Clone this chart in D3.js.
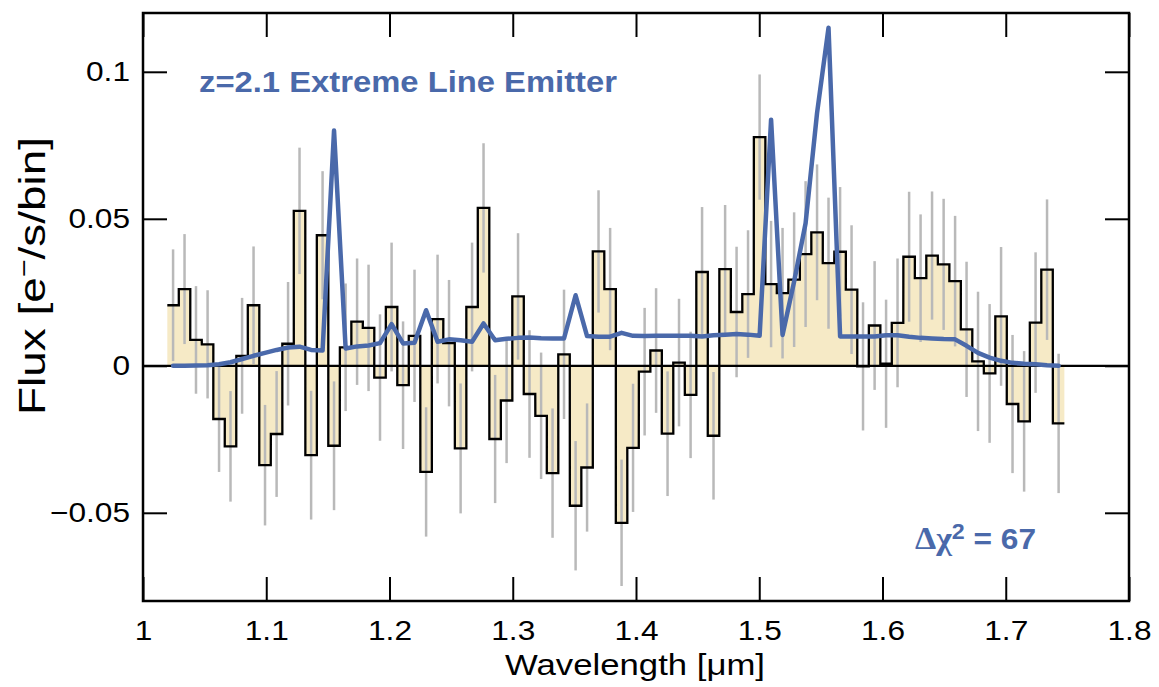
<!DOCTYPE html>
<html>
<head>
<meta charset="utf-8">
<script src="https://cdn.jsdelivr.net/npm/d3@7"></script>
<style>
  body { margin: 0; background: #fff; }
  svg { display: block; }
  text { font-family: "Liberation Sans", Arial, sans-serif; }
</style>
</head>
<body>
<div id="chart"></div>
<script>
// bin centres [um]
const wavelength = [
  1.0244, 1.0337, 1.0430, 1.0524, 1.0617, 1.0710, 1.0804, 1.0897, 1.0990, 1.1084,
  1.1177, 1.1270, 1.1364, 1.1457, 1.1550, 1.1644, 1.1737, 1.1830, 1.1923, 1.2017,
  1.2110, 1.2203, 1.2297, 1.2390, 1.2483, 1.2577, 1.2670, 1.2763, 1.2857, 1.2950,
  1.3043, 1.3136, 1.3230, 1.3323, 1.3416, 1.3510, 1.3603, 1.3696, 1.3790, 1.3883,
  1.3976, 1.4070, 1.4163, 1.4256, 1.4349, 1.4443, 1.4536, 1.4629, 1.4723, 1.4816,
  1.4909, 1.5003, 1.5096, 1.5189, 1.5283, 1.5376, 1.5469, 1.5562, 1.5656, 1.5749,
  1.5842, 1.5936, 1.6029, 1.6122, 1.6216, 1.6309, 1.6402, 1.6496, 1.6589, 1.6682,
  1.6775, 1.6869, 1.6962, 1.7055, 1.7149, 1.7242, 1.7335, 1.7429
];
const binWidth = 0.00933;

// measured flux per bin [e-/s/bin]
const flux = [
  0.0206, 0.0261, 0.0088, 0.0073, -0.0181, -0.0274, 0.0034, 0.0206, -0.0338, -0.0232,
  0.0075, 0.0527, -0.0304, 0.0444, -0.0272, 0.0063, 0.0150, 0.0129, -0.0040, 0.0200,
  -0.0066, 0.0102, -0.0361, 0.0159, 0.0077, -0.0281, 0.0200, 0.0537, -0.0249, -0.0118,
  0.0236, -0.0096, -0.0170, -0.0365, 0.0039, -0.0476, -0.0346, 0.0389, 0.0261, -0.0534,
  -0.0279, -0.0020, 0.0052, -0.0231, 0.0011, -0.0099, 0.0319, -0.0238, 0.0329, 0.0183,
  0.0244, 0.0778, 0.0278, 0.0247, 0.0293, 0.0380, 0.0454, 0.0349, 0.0388, 0.0259,
  -0.0002, 0.0137, 0.0007, 0.0146, 0.0371, 0.0298, 0.0375, 0.0345, 0.0288, 0.0124,
  0.0015, -0.0026, 0.0168, -0.0130, -0.0189, 0.0147, 0.0327, -0.0196
];

// 1-sigma errors
const fluxErr = [
  0.0190, 0.0187, 0.0183, 0.0184, 0.0180, 0.0188, 0.0197, 0.0200, 0.0205, 0.0214,
  0.0210, 0.0215, 0.0219, 0.0218, 0.0219, 0.0217, 0.0215, 0.0215, 0.0215, 0.0219,
  0.0217, 0.0225, 0.0220, 0.0219, 0.0215, 0.0221, 0.0219, 0.0220, 0.0218, 0.0213,
  0.0215, 0.0217, 0.0215, 0.0220, 0.0220, 0.0220, 0.0218, 0.0208, 0.0208, 0.0215,
  0.0218, 0.0217, 0.0212, 0.0212, 0.0217, 0.0215, 0.0221, 0.0217, 0.0218, 0.0222,
  0.0217, 0.0213, 0.0215, 0.0222, 0.0229, 0.0248, 0.0231, 0.0223, 0.0220, 0.0219,
  0.0218, 0.0219, 0.0218, 0.0219, 0.0221, 0.0217, 0.0218, 0.0223, 0.0222, 0.0230,
  0.0237, 0.0236, 0.0236, 0.0235, 0.0239, 0.0239, 0.0239, 0.0237
];

// best-fit line emitter template
const model = [
  0.0000, 0.0000, 0.0001, 0.0002, 0.0005, 0.0012, 0.0023, 0.0034, 0.0044, 0.0054,
  0.0062, 0.0065, 0.0054, 0.0052, 0.0800, 0.0059, 0.0066, 0.0069, 0.0077, 0.0142,
  0.0076, 0.0078, 0.0189, 0.0082, 0.0090, 0.0087, 0.0082, 0.0144, 0.0087, 0.0092,
  0.0095, 0.0096, 0.0094, 0.0093, 0.0093, 0.0240, 0.0101, 0.0099, 0.0099, 0.0112,
  0.0102, 0.0101, 0.0102, 0.0102, 0.0102, 0.0102, 0.0100, 0.0104, 0.0106, 0.0108,
  0.0106, 0.0102, 0.0837, 0.0105, 0.0287, 0.0485, 0.0860, 0.1150, 0.0100, 0.0100,
  0.0100, 0.0100, 0.0104, 0.0104, 0.0099, 0.0095, 0.0093, 0.0091, 0.0090, 0.0068,
  0.0044, 0.0028, 0.0017, 0.0010, 0.0007, 0.0005, 0.0002, 0.0000
];

const xTicks = [1, 1.1, 1.2, 1.3, 1.4, 1.5, 1.6, 1.7, 1.8];
const yTicks = [-0.05, 0, 0.05, 0.1];

const blue = "#4a69aa";

const margin = { top: 13, right: 30, bottom: 86, left: 143 },
    width = 1159 - margin.left - margin.right,
    height = 687 - margin.top - margin.bottom;

const svg = d3.select("#chart").append("svg")
    .attr("width", 1159)
    .attr("height", 687);

const g = svg.append("g")
    .attr("transform", `translate(${margin.left},${margin.top})`);

const x = d3.scaleLinear().domain([1, 1.8]).range([0, width]);
const y = d3.scaleLinear().domain([-0.08, 0.12]).range([height, 0]);

// widen glyphs a little, the original font runs wider than Arial
function stretch(sel, k) {
    sel.each(function () {
        const w = this.getComputedTextLength();
        d3.select(this).attr("textLength", w * k).attr("lengthAdjust", "spacingAndGlyphs");
    });
}

// step histogram points: each bin as two corners
const steps = [];
wavelength.forEach((w, i) => {
    steps.push([w - binWidth / 2, flux[i]]);
    steps.push([w + binWidth / 2, flux[i]]);
});

g.append("path")
    .datum(steps)
    .attr("fill", "#f6eac6")
    .attr("d", d3.area().x(d => x(d[0])).y0(y(0)).y1(d => y(d[1])));

// error bars
g.append("g")
    .selectAll("line")
    .data(wavelength)
    .join("line")
    .attr("x1", d => x(d))
    .attr("x2", d => x(d))
    .attr("y1", (d, i) => y(flux[i] - fluxErr[i]))
    .attr("y2", (d, i) => y(flux[i] + fluxErr[i]))
    .attr("stroke", "#b9b9b9")
    .attr("stroke-width", 2.5);

g.append("path")
    .datum(steps)
    .attr("fill", "none")
    .attr("stroke", "#000")
    .attr("stroke-width", 2.3)
    .attr("d", d3.line().x(d => x(d[0])).y(d => y(d[1])));

// zero line
g.append("line")
    .attr("x1", 0).attr("x2", width)
    .attr("y1", y(0)).attr("y2", y(0))
    .attr("stroke", "#000")
    .attr("stroke-width", 2.2);

// model
g.append("path")
    .datum(wavelength.map((w, i) => [w, model[i]]))
    .attr("fill", "none")
    .attr("stroke", blue)
    .attr("stroke-width", 4.5)
    .attr("stroke-linejoin", "round")
    .attr("stroke-linecap", "round")
    .attr("d", d3.line().x(d => x(d[0])).y(d => y(d[1])));

// axes, ticks pointing inward on all four sides
const fmt = d3.format("~g");
const axB = g.append("g")
    .attr("transform", `translate(0,${height})`)
    .call(d3.axisBottom(x).tickValues(xTicks).tickSize(-24).tickPadding(19).tickFormat(fmt));
const axT = g.append("g")
    .call(d3.axisTop(x).tickValues(xTicks).tickSize(-24).tickFormat(""));
const axL = g.append("g")
    .call(d3.axisLeft(y).tickValues(yTicks).tickSize(-24).tickPadding(13).tickFormat(fmt));
const axR = g.append("g")
    .attr("transform", `translate(${width},0)`)
    .call(d3.axisRight(y).tickValues(yTicks).tickSize(-24).tickFormat(""));

[axB, axT, axL, axR].forEach(a => {
    a.select(".domain").remove();
    a.selectAll(".tick line").attr("stroke", "#000").attr("stroke-width", 2);
    a.selectAll(".tick text")
        .attr("fill", "#000")
        .attr("font-size", "28px")
        .attr("font-family", "'Liberation Sans', Arial, sans-serif");
});
stretch(axB.selectAll(".tick text"), 1.13);
stretch(axL.selectAll(".tick text"), 1.13);

// frame
g.append("rect")
    .attr("width", width)
    .attr("height", height)
    .attr("fill", "none")
    .attr("stroke", "#000")
    .attr("stroke-width", 2.5);

// axis titles
svg.append("text")
    .attr("x", 635)
    .attr("y", 675)
    .attr("text-anchor", "middle")
    .attr("font-size", "30px")
    .attr("textLength", 260)
    .attr("lengthAdjust", "spacingAndGlyphs")
    .text("Wavelength [\u03bcm]");

const yl = svg.append("text")
    .attr("transform", "translate(45,276) rotate(-90)")
    .attr("text-anchor", "middle")
    .attr("font-size", "36px")
    .attr("textLength", 278)
    .attr("lengthAdjust", "spacingAndGlyphs");
yl.append("tspan").text("Flux [e");
yl.append("tspan").attr("dy", -13).attr("font-size", "24px").text("\u2212");
yl.append("tspan").attr("dy", 13).text("/s/bin]");

// annotations
svg.append("text")
    .attr("x", 199)
    .attr("y", 92)
    .attr("fill", blue)
    .attr("font-weight", "bold")
    .attr("font-size", "29px")
    .attr("textLength", 418)
    .attr("lengthAdjust", "spacingAndGlyphs")
    .text("z=2.1 Extreme Line Emitter");

const chi = svg.append("text")
    .attr("x", 915)
    .attr("y", 549)
    .attr("fill", blue)
    .attr("font-weight", "bold")
    .attr("font-size", "30px")
    .attr("textLength", 121)
    .attr("lengthAdjust", "spacingAndGlyphs");
chi.append("tspan").attr("font-family", "'Liberation Serif', serif").attr("font-size", "32px").text("\u0394\u03c7");
chi.append("tspan").attr("dy", -10).attr("font-size", "22px").text("2");
chi.append("tspan").attr("dy", 10).text(" = 67");
</script>
</body>
</html>
